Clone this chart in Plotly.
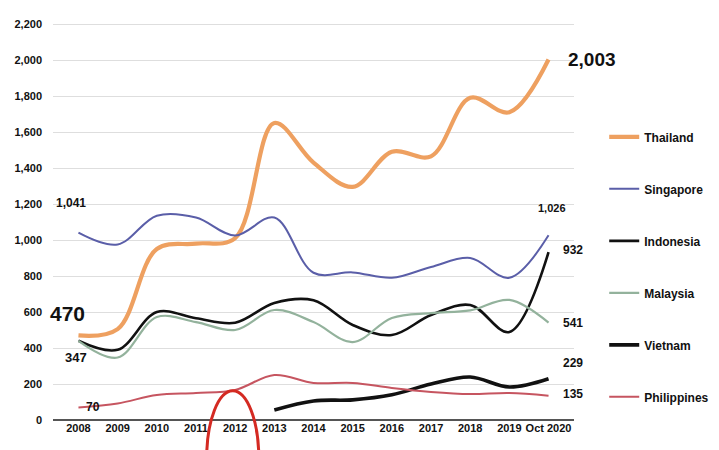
import plotly.graph_objects as go

years = ["2008", "2009", "2010", "2011", "2012", "2013", "2014", "2015",
         "2016", "2017", "2018", "2019", "Oct 2020"]

thailand = [470, 505, 950, 980, 1010, 1650, 1430, 1295, 1490, 1465, 1790, 1710, 2003]
singapore = [1041, 975, 1135, 1125, 1025, 1125, 818, 820, 790, 850, 900, 790, 1026]
indonesia = [440, 390, 600, 565, 540, 650, 665, 528, 472, 583, 639, 489, 932]
malaysia = [440, 347, 572, 544, 500, 611, 544, 433, 567, 594, 609, 667, 541]
vietnam = [None, None, None, None, None, 56, 106, 112, 140, 200, 239, 183, 229]
philippines = [70, 92, 139, 150, 167, 250, 206, 206, 178, 156, 144, 150, 135]

y_ticks = [0, 200, 400, 600, 800, 1000, 1200, 1400, 1600, 1800, 2000, 2200]

FONT = "Liberation Sans, Arial, sans-serif"

series = [
    ("Thailand", thailand, "#eea060", 4.2),
    ("Singapore", singapore, "#5a5ea8", 2.0),
    ("Indonesia", indonesia, "#111111", 2.6),
    ("Malaysia", malaysia, "#93b29c", 2.2),
    ("Vietnam", vietnam, "#111111", 3.6),
    ("Philippines", philippines, "#c65560", 2.0),
]

fig = go.Figure()
for name, vals, color, width in series:
    fig.add_trace(go.Scatter(
        x=list(range(len(years))), y=vals, name=name, mode="lines",
        line=dict(color=color, width=width, shape="spline", smoothing=1.0),
        legendgroup=name, connectgaps=False,
    ))

def label(x, y, text, size, xshift=0, yshift=0, xanchor="center"):
    fig.add_annotation(x=x, y=y, text=text, showarrow=False, xref="x", yref="y",
                       xanchor=xanchor, yanchor="middle", xshift=xshift, yshift=yshift,
                       font=dict(family=FONT, size=size, color="#111", weight="bold"))

last = len(years) - 1
label(last, thailand[last], f"{thailand[last]:,}", 19, xshift=17, xanchor="left")
label(last, singapore[last], f"{singapore[last]:,}", 11, xshift=-13, yshift=27, xanchor="left")
label(last, indonesia[last], f"{indonesia[last]:,}", 12, xshift=12, yshift=2, xanchor="left")
label(last, malaysia[last], f"{malaysia[last]:,}", 12, xshift=12, xanchor="left")
label(last, vietnam[last], f"{vietnam[last]:,}", 12, xshift=12, yshift=16, xanchor="left")
label(last, philippines[last], f"{philippines[last]:,}", 12, xshift=12, yshift=2, xanchor="left")

label(0, singapore[0], f"{singapore[0]:,}", 12, xshift=-7, yshift=30)
label(0, thailand[0], f"{thailand[0]:,}", 21, xshift=-11, yshift=22)
label(1, malaysia[1], f"{malaysia[1]:,}", 13, xshift=-42)
label(0, philippines[0], f"{philippines[0]:,}", 12, xshift=15)

# hand-drawn style highlight around the 2012 tick
fig.add_shape(type="circle", xref="paper", yref="paper",
              x0=0.295, x1=0.395, y0=-0.26, y1=0.072,
              line=dict(color="#d42a22", width=3))

fig.update_layout(
    width=719, height=450,
    margin=dict(l=53, r=145, t=15, b=30, autoexpand=False),
    paper_bgcolor="white", plot_bgcolor="white",
    showlegend=True,
    legend=dict(x=1.058, xanchor="left", y=0.735, yanchor="top",
                font=dict(family=FONT, size=12, color="#111", weight="bold"),
                tracegroupgap=33, itemwidth=30, bgcolor="rgba(0,0,0,0)"),
    xaxis=dict(range=[-0.65, 12.65], tickmode="array",
               tickvals=list(range(len(years))), ticktext=years,
               showgrid=False, zeroline=False, showline=False, ticks="",
               tickangle=0, automargin=False,
               tickfont=dict(family=FONT, size=11, color="#111", weight="bold")),
    yaxis=dict(range=[0, 2250], tickmode="array", tickvals=y_ticks,
               ticktext=[f"{v:,}" for v in y_ticks],
               showgrid=True, gridcolor="#dedede", gridwidth=1,
               zeroline=True, zerolinecolor="#555", zerolinewidth=1.5,
               ticks="", ticklabelstandoff=10, automargin=False,
               tickfont=dict(family=FONT, size=11, color="#111", weight="bold")),
)

fig.write_html("out.html")
